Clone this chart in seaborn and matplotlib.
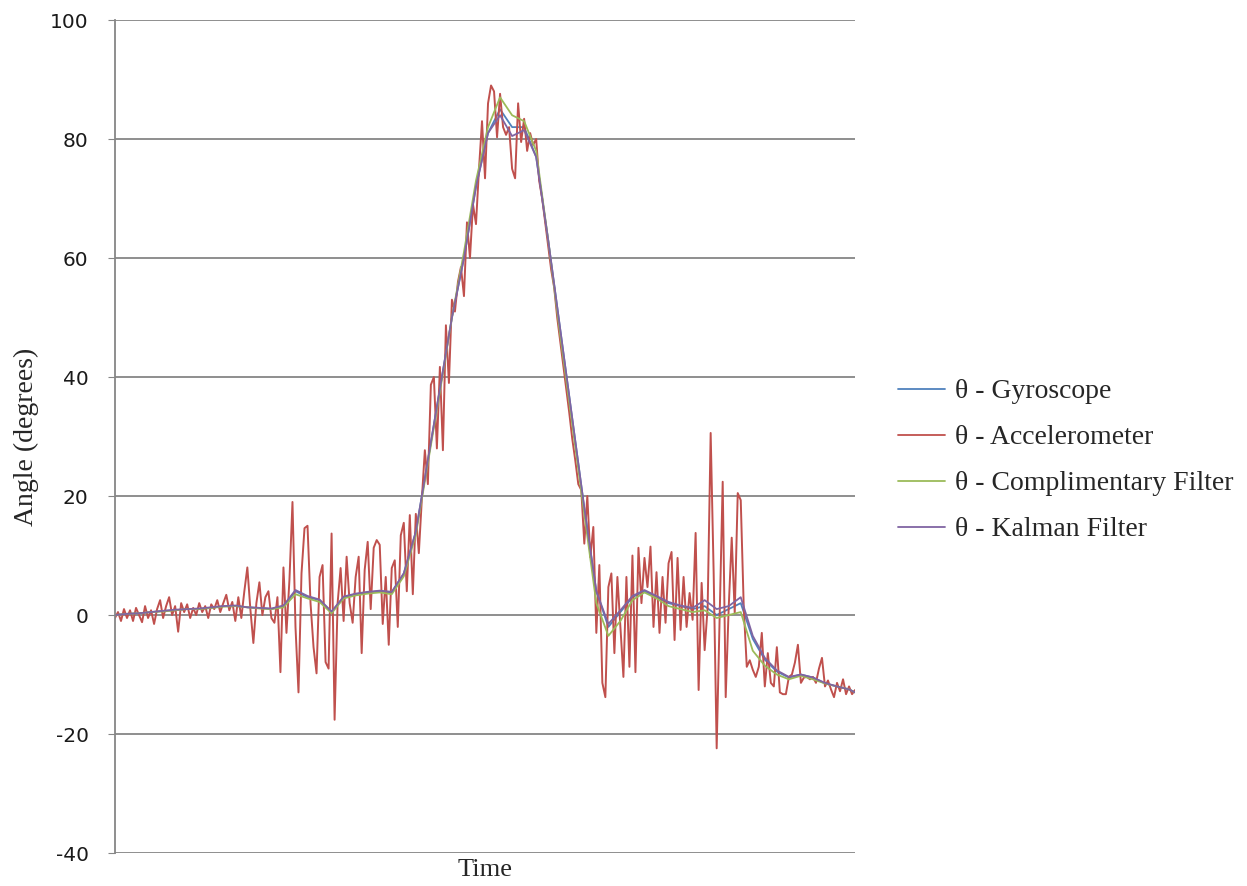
import matplotlib
matplotlib.use("Agg")
from matplotlib import pyplot as plt
import pandas as pd
import seaborn as sns

# Accelerometer angle, one sample per time step
accel = [
    -0.5, 0.5, -1, 1, -0.5, 0.8, -1, 1.2, 0, -1.2, 1.5, -0.5, 0.8, -1.5, 1, 2.5,
    -0.5, 1.5, 3, 0, 1.5, -2.8, 2, 0.5, 1.8, -0.5, 1.2, 0, 2, 0.5, 1.5, -0.5,
    1.8, 1, 2.5, 0.5, 2, 3.4, 0.8, 2.2, -1, 3, -0.5, 4,
    8, 1, -4.7, 2, 5.5, 0, 3, 4, -0.5, -1.3, 3, -9.6, 8, -3, 6, 19,
    -2, -13, 7, 14.6, 15, 2, -5.4, -9.8, 6.4, 8.4, -7.9, -9, 13.7, -17.6, 2, 7.9,
    -1, 9.8, 2, -1.3, 6.4, 9.8, -6.4, 7.6, 12.3, 1, 11.3, 12.6, 11.8, -1.5, 6.4, -5,
    7.9,
    9.2, -2, 13.4, 15.5, 4, 16.8, 3.5, 17, 10.4, 19.5, 27.7, 22, 38.7, 40, 28, 41.7,
    27.7, 48.7, 39, 53, 51, 56, 58.5, 53.6, 66, 60, 69, 65.7, 75, 83, 73.4, 86,
    89, 88, 80.3, 87.6, 82, 80.7, 82, 75, 73.4, 86, 79.5, 83.4, 78, 81, 79,
    80, 73, 70, 66, 62, 58, 55, 50, 46, 42, 38, 34, 29.6, 26, 22, 21,
    12, 20, 9.7, 14.8, -3, 8.4,
    -11.4, -13.8, 4.7, 7, -6.4, 6.4, -2, -10.4, 6.4, -8.7, 10, -9.6, 11.3, 2, 9.6, 4.7,
    11.5, -2, 7.2, -3, 6.4, -1.3, 8.7, 10.6, -4.2, 9.6, -2.5, 6.4, -2, 3.7, -0.8, 13.8,
    -12.6, 5.4, -5.9, 1.3, 30.6, 7, -22.4, 0.3, 22.4, -13.8, 1.3, 13, 0.3, 20.5, 19.3, 1.3,
    -8.7, -7.6, -9.2, -10.4, -8.7, -3, -12, -6.4, -11.4, -12, -5.4, -13, -13.3, -13.3, -10.4, -10,
    -8, -5, -11.4, -10.5, -10.4, -10.8, -10.4, -11.4, -9, -7.2, -12, -11, -12.5, -13.8, -11.4, -12.8,
    -10.8, -13.3, -12, -13.3, -12.6,
]

# Smoother estimates, sampled every 4 time steps
t_smooth = list(range(0, 245, 4)) + [246]
gyro = [
    0, 0.2, 0.3, 0.5, 0.7, 0.8, 1, 1, 1.2, 1.5, 1.5, 1.3, 1.2, 1, 1.5, 4,
    3, 2.5, 0.5, 3, 3.5, 3.8, 4, 3.8, 7, 14, 26, 38, 50, 60, 72, 81,
    85, 82, 82, 77, 63, 48, 33, 18, 4, -2, 0.5, 3, 4, 3, 2, 1.5,
    1, 1.5, 0, 1, 2, -4, -7.5, -9.5, -10.5, -10, -10.5, -11.5, -12, -12.5, -13,
]
complementary = [
    0, 0.2, 0.3, 0.5, 0.6, 0.8, 1, 1, 1.2, 1.4, 1.5, 1.3, 1.1, 1, 1.3, 3.5,
    2.8, 2.2, 0.3, 2.8, 3.3, 3.6, 3.8, 3.5, 6.5, 13.5, 25.5, 37.5, 50, 61, 73, 82,
    87, 84, 83, 78, 63, 47, 32, 17, 2, -3.5, -1, 2.5, 3.8, 2.8, 1.5, 1,
    0.5, 0.8, -0.5, 0, 0.5, -6, -8.5, -10, -10.8, -10.2, -10.8, -11.5, -12, -12.5, -13,
]
kalman = [
    0, 0.2, 0.3, 0.5, 0.7, 0.9, 1, 1.1, 1.3, 1.5, 1.6, 1.3, 1.2, 1.1, 1.6, 4.2,
    3.2, 2.6, 0.6, 3.1, 3.6, 3.9, 4.1, 3.9, 7, 14, 26, 38, 50, 60, 72, 81,
    84, 80.5, 81.5, 77, 63, 48, 33, 18, 4, -1.5, 0.8, 3.2, 4.2, 3.2, 2.2, 1.6,
    1.2, 2.5, 1, 1.5, 3, -3.5, -7.2, -9.3, -10.4, -10, -10.5, -11.4, -12, -12.5, -13,
]

labels = ["θ - Gyroscope", "θ - Accelerometer", "θ - Complimentary Filter", "θ - Kalman Filter"]
colors = ["#4F81BD", "#C0504D", "#9BBB59", "#8064A2"]

acc_df = pd.DataFrame({"time": range(len(accel)), "angle": accel})
gyro_df = pd.DataFrame({"time": t_smooth, "angle": gyro})
comp_df = pd.DataFrame({"time": t_smooth, "angle": complementary})
kal_df = pd.DataFrame({"time": t_smooth, "angle": kalman})

sns.set_style("white")
plt.rcParams["font.family"] = ["Liberation Serif", "DejaVu Serif"]
plt.rcParams["axes.unicode_minus"] = False

fig = plt.figure(figsize=(12.47, 8.86), dpi=100)
ax = fig.add_axes([0.0922, 0.0372, 0.5935, 0.9402])

sns.lineplot(data=gyro_df, x="time", y="angle", ax=ax, color=colors[0], lw=1.3, label=labels[0])
sns.lineplot(data=acc_df, x="time", y="angle", ax=ax, color=colors[1], lw=1.4, label=labels[1])
sns.lineplot(data=comp_df, x="time", y="angle", ax=ax, color=colors[2], lw=1.3, label=labels[2])
sns.lineplot(data=kal_df, x="time", y="angle", ax=ax, color=colors[3], lw=1.3, label=labels[3])

ax.set_xlim(0, 246)
ax.set_ylim(-40, 100)
ax.set_yticks(range(-40, 101, 20))
ax.set_xticks([])
for lab in ax.get_yticklabels():
    lab.set_fontfamily("DejaVu Sans")
ax.tick_params(axis="y", labelsize=14.5, length=5, color="#868686", labelcolor="#1a1a1a", pad=14, left=True, direction="out")
ax.yaxis.grid(True, color="#868686", lw=1.3)
ax.set_axisbelow(True)
for s in ["top", "right", "bottom"]:
    ax.spines[s].set_visible(False)
ax.spines["left"].set_color("#868686")
ax.spines["left"].set_linewidth(1.3)

ax.set_ylabel("Angle (degrees)", fontsize=20, labelpad=8)
ax.set_xlabel("Time", fontsize=19, labelpad=4)

leg = ax.legend(loc="center left", bbox_to_anchor=(1.058, 0.471), frameon=False, fontsize=20,
                handlelength=1.7, handletextpad=0.36, labelspacing=0.74,
                borderaxespad=0, borderpad=0)
for line in leg.get_lines():
    line.set_linewidth(1.3)

plt.savefig("out.png", dpi=100)
